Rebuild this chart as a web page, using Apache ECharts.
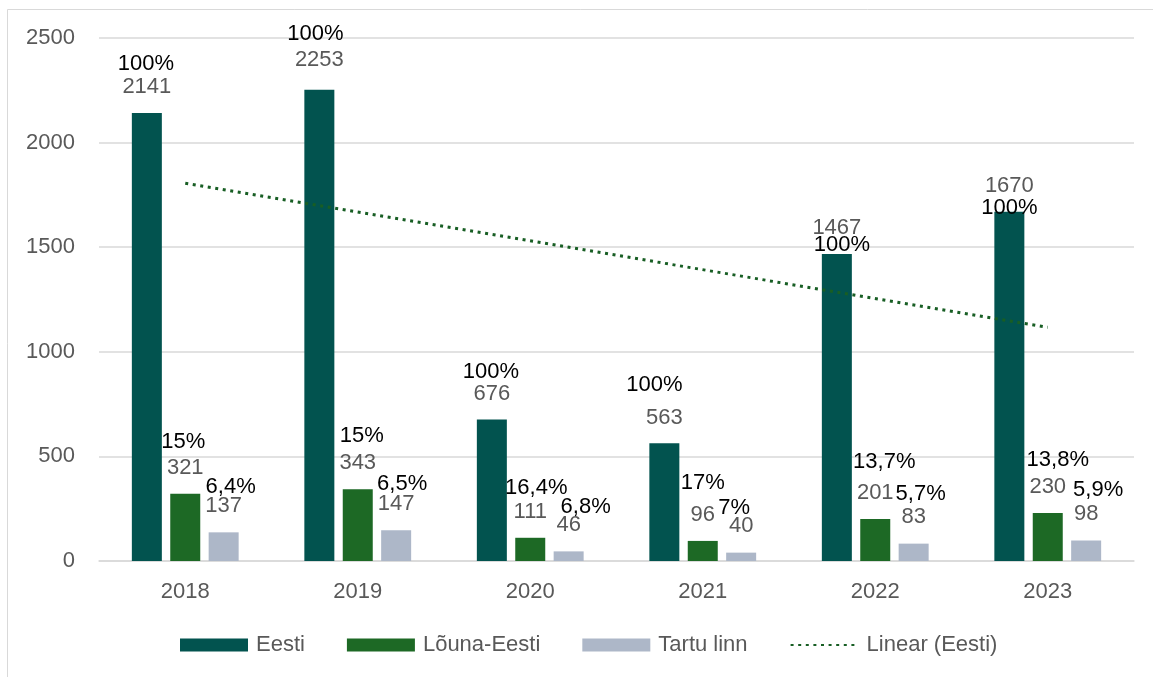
<!DOCTYPE html>
<html>
<head>
<meta charset="utf-8">
<script src="https://cdn.jsdelivr.net/npm/echarts@6/dist/echarts.min.js"></script>
<style>
  html, body { margin: 0; padding: 0; background: #fff; }
  #chart { width: 1153px; height: 677px; }
</style>
</head>
<body>
<div id="chart"></div>
<script>
// ---- data ----
const years = ['2018', '2019', '2020', '2021', '2022', '2023'];
const eesti = [2141, 2253, 676, 563, 1467, 1670];
const lounaEesti = [321, 343, 111, 96, 201, 230];
const tartuLinn = [137, 147, 46, 40, 83, 98];
const pctEesti = ['100%', '100%', '100%', '100%', '100%', '100%'];
const pctLouna = ['15%', '15%', '16,4%', '17%', '13,7%', '13,8%'];
const pctTartu = ['6,4%', '6,5%', '6,8%', '7%', '5,7%', '5,9%'];
// linear trend of Eesti, endpoints
const trendEesti = [1806, null, null, null, null, 1117];
const yTicks = [0, 500, 1000, 1500, 2000, 2500];

// ---- label placement (pixels above bar top: value centre, percent centre, percent dx) ----
const placeEesti = [[26.5, 49.5, -1], [30, 56, -4], [26, 48, -1], [25, 58, -10], [25.8, 9.4, 5], [25.8, 3.8, 0]];
const placeLouna = [[26, 52, -2], [26.7, 53.7, 4], [26, 50, 6], [26, 57.6, 0], [25.7, 57.3, 9], [26.2, 53, 10]];
const placeTartu = [[26, 45, 7], [26, 46, 6], [26, 44, 17], [26.6, 45, -7], [27, 50, 7], [27, 50.5, 12]];

const FONT = 'Liberation Sans, Arial, sans-serif';
const FS = 22;

function makeItems(values, pcts, places) {
  return values.map((v, i) => {
    const [vc, pc, dx] = places[i];
    const pad = dx >= 0 ? [0, 0, 0, 2 * dx] : [0, -2 * dx, 0, 0];
    let formatter, lp, b;
    if (pc > vc) {
      lp = Math.max(2, 2 * (pc - vc - 11));
      b = vc - 11;
      formatter = '{p|' + pcts[i] + '}\n{v|' + v + '}';
    } else {
      lp = Math.max(2, 2 * (vc - 11 - pc));
      b = pc - lp / 2;
      formatter = '{v|' + v + '}\n{p|' + pcts[i] + '}';
    }
    return {
      value: v,
      label: {
        show: true,
        position: 'top',
        distance: 0,
        offset: [0, -b],
        formatter: formatter,
        rich: {
          p: { fontSize: FS, fontFamily: FONT, color: '#000000', lineHeight: lp, padding: pad, align: 'center', verticalAlign: 'middle' },
          v: { fontSize: FS, fontFamily: FONT, color: '#595959', lineHeight: 22, align: 'center', verticalAlign: 'middle' }
        }
      }
    };
  });
}

const chart = echarts.init(document.getElementById('chart'), null, { renderer: 'canvas' });

const TREND_COLOR = '#185e24';

const option = {
  backgroundColor: '#ffffff',
  animation: false,
  textStyle: { fontFamily: FONT },
  graphic: [{
    type: 'rect',
    shape: { x: 7.5, y: 9.5, width: 1300, height: 800 },
    style: { fill: 'none', stroke: '#d9d9d9', lineWidth: 1 },
    silent: true,
    z: -10
  }],
  grid: { left: 99, right: 19, top: 38, bottom: 116, containLabel: false },
  legend: {
    left: 180,
    top: 634,
    padding: 0,
    itemWidth: 68,
    itemHeight: 13,
    itemGap: 42,
    textStyle: { fontSize: FS, color: '#595959', fontFamily: FONT, padding: [0, 0, 0, 3] },
    data: [
      { name: 'Eesti', icon: 'rect' },
      { name: 'Lõuna-Eesti', icon: 'rect' },
      { name: 'Tartu linn', icon: 'rect' },
      { name: 'Linear (Eesti)', itemStyle: { opacity: 0 } }
    ]
  },
  xAxis: {
    type: 'category',
    data: years,
    axisTick: { show: false },
    axisLine: { lineStyle: { color: '#d9d9d9', width: 1.5 } },
    axisLabel: { fontSize: FS, color: '#595959', margin: 20, fontFamily: FONT }
  },
  yAxis: {
    type: 'value',
    min: yTicks[0],
    max: yTicks[yTicks.length - 1],
    interval: yTicks[1] - yTicks[0],
    axisLine: { show: false },
    axisTick: { show: false },
    axisLabel: { fontSize: FS, color: '#595959', margin: 24, fontFamily: FONT, formatter: (v) => String(v) },
    splitLine: { lineStyle: { color: '#d9d9d9', width: 1.5 } }
  },
  series: [
    {
      name: 'Eesti', type: 'bar', barWidth: 30, barGap: '28%',
      itemStyle: { color: '#02534f' },
      data: makeItems(eesti, pctEesti, placeEesti),
      z: 2
    },
    {
      name: 'Lõuna-Eesti', type: 'bar', barWidth: 30, barGap: '28%',
      itemStyle: { color: '#1d6925' },
      data: makeItems(lounaEesti, pctLouna, placeLouna),
      z: 2
    },
    {
      name: 'Tartu linn', type: 'bar', barWidth: 30, barGap: '28%',
      itemStyle: { color: '#adb7c8' },
      data: makeItems(tartuLinn, pctTartu, placeTartu),
      z: 2
    },
    {
      name: 'Linear (Eesti)', type: 'line',
      data: trendEesti,
      connectNulls: true,
      symbol: 'none',
      lineStyle: { color: TREND_COLOR, width: 3, type: [3, 4.6] },
      itemStyle: { color: TREND_COLOR },
      z: 3
    }
  ]
};

chart.setOption(option);
</script>
</body>
</html>
